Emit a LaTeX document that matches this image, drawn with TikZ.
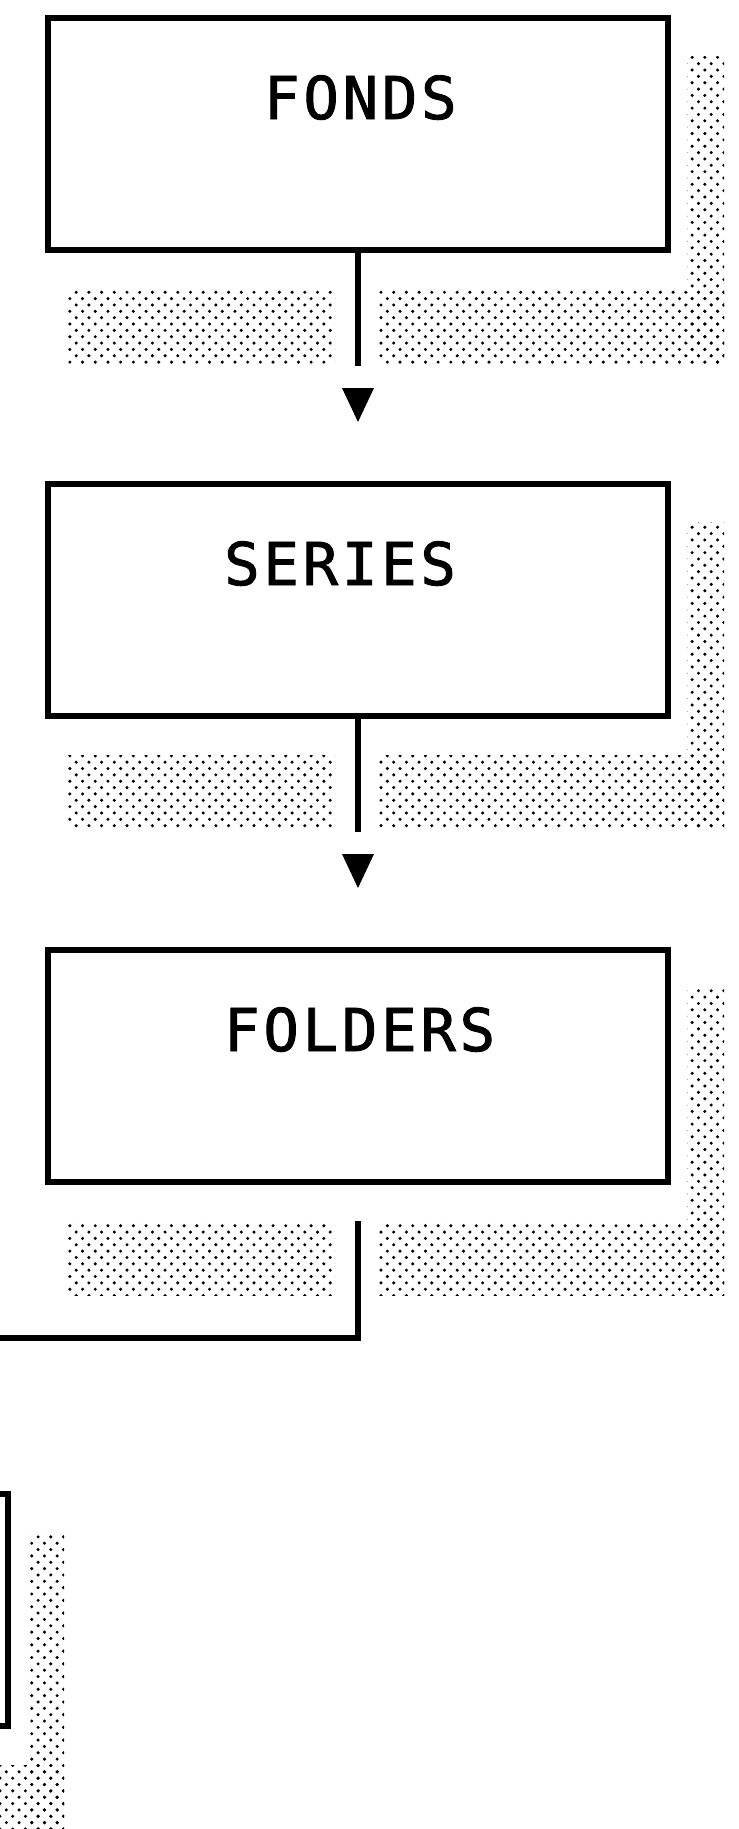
\documentclass[tikz,border=0pt]{standalone}
\usepackage{fontspec}
\newfontfamily\boxfont[LetterSpace=6.3, FakeBold=1.5]{DejaVu Sans Mono}
\usetikzlibrary{patterns}
\pgfdeclarepatternformonly{shade dots}{\pgfqpoint{-2pt}{-2pt}}{\pgfqpoint{8.5pt}{8.5pt}}{\pgfqpoint{12.7pt}{12.7pt}}{%
	\pgfpathcircle{\pgfqpoint{0pt}{0pt}}{1.7pt}
	\pgfpathcircle{\pgfqpoint{6.35pt}{6.35pt}}{1.7pt}
	\pgfusepath{fill}}
\tikzset{
	box/.style={draw, line width=5.5pt, minimum width=620pt, minimum height=232pt, inner sep=0pt, outer sep=0pt},
	boxtext/.style={font=\boxfont\fontsize{59pt}{59pt}\selectfont, anchor=base west, inner sep=0pt},
	link/.style={line width=5.3pt},
	shadow/.style={pattern=shade dots},
	tip/.style={fill=black},
}

\begin{document}
\begin{tikzpicture}[x=1pt, y=-1pt]
			%%%%% START %%%%%
			
			\fill[white] (0, 0) rectangle (739, 1829);
			\clip (0, 0) rectangle (739, 1829);
			
			% fonds
			\path[shadow] (687, 56) rectangle (724, 363);
			\path[shadow] (66, 289) rectangle (335, 363);
			\path[shadow] (377, 289) rectangle (724, 363);
			\node[box] (fonds) at (358, 134) {};
			\node[boxtext] (fondstxt) at (264, 119) {FONDS};
			\coordinate (fondsend) at (358, 366);
			\draw[link] (fonds.south) -- (fondsend);
			\fill[tip] (342, 388) -- (374, 388) -- (358, 422) -- cycle;
			
			% series
			\path[shadow] (687, 522) rectangle (724, 829);
			\path[shadow] (66, 755) rectangle (335, 829);
			\path[shadow] (377, 755) rectangle (724, 829);
			\node[box] (series) at (358, 600) {};
			\node[boxtext] (seriestxt) at (224, 585) {SERIES};
			\coordinate (seriesend) at (358, 832);
			\draw[link] (series.south) -- (seriesend);
			\fill[tip] (342, 854) -- (374, 854) -- (358, 888) -- cycle;
			
			% folders
			\path[shadow] (687, 988) rectangle (724, 1295);
			\path[shadow] (66, 1221) rectangle (335, 1295);
			\path[shadow] (377, 1221) rectangle (724, 1295);
			\node[box] (folders) at (358, 1066) {};
			\node[boxtext] (folderstxt) at (224, 1051) {FOLDERS};
			\coordinate (foldersout) at (358, 1221);
			\coordinate (offleft) at (-20, 1338);
			\draw[link] (foldersout) |- (offleft);
			
			% next box, cut off at the left edge
			\path[shadow] (27, 1532) rectangle (64, 1839);
			\path[shadow] (-594, 1765) rectangle (64, 1839);
			\node[box] (nextbox) at (-302, 1610) {};
			
			%%%%% END %%%%%
\end{tikzpicture}
\end{document}
